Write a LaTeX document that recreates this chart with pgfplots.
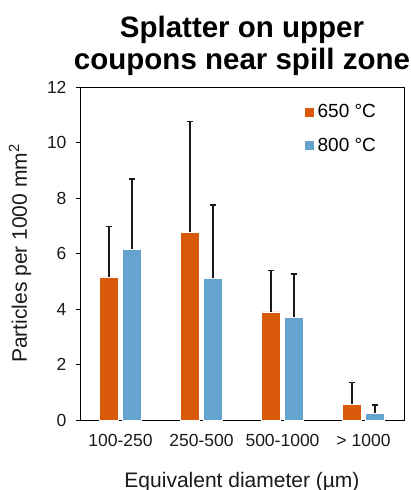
\documentclass[border=0pt]{standalone}
\usepackage{pgfplots}
\pgfplotsset{compat=1.18}
\usepackage{fontspec}
\setmainfont{Liberation Sans}
\definecolor{cOrange}{HTML}{DA5A0C}
\definecolor{cBlue}{HTML}{66A4D0}
\definecolor{cText}{HTML}{1A1A1A}
\begin{document}
\begin{tikzpicture}
\path[use as bounding box] (0pt,0pt) rectangle (410pt,490pt);
\begin{axis}[
  at={(80pt,70pt)}, anchor=south west,
  scale only axis, width=324pt, height=333pt,
  xmin=-0.5, xmax=3.5, ymin=0, ymax=12,
  ytick={0,2,4,6,8,10,12},
  xtick={0,1,2,3},
  xticklabels={100-250,250-500,500-1000,> 1000},
  /pgf/number format/assume math mode=true,
  ytick pos=left, xtick pos=bottom,
  tick align=outside,
  major tick length=4pt,
  x tick style={draw=none},
  tick style={black, line width=0.8pt},
  axis line style={black, line width=0.9pt},
  tick label style={font=\fontsize{17.5}{20}\selectfont, text=cText},
  yticklabel style={xshift=-6pt},
  xticklabel style={yshift=-7pt},
  xlabel={Equivalent diameter (µm)},
  ylabel={Particles per 1000 mm\textsuperscript{2}},
  label style={font=\fontsize{21}{24}\selectfont, text=cText},
  xlabel style={yshift=-18pt},
  ylabel style={yshift=9pt},
  title={Splatter on upper\\coupons near spill zone},
  title style={font=\bfseries\fontsize{29.5}{32}\selectfont, align=center, yshift=1.5pt},
  ybar=4.3pt, bar width=19pt,
  legend style={draw=none, fill=none, at={(0.69,0.96)}, anchor=north west,
    font=\fontsize{19}{22}\selectfont, row sep=15pt, inner xsep=0pt,
    nodes={inner xsep=3.5pt}},
  legend image code/.code={\fill[#1] (0pt,-5pt) rectangle (10pt,5pt);},
  legend cell align=left,
]
\addplot[fill=cOrange, draw=white, line width=0.4pt,
  error bars/.cd, y dir=plus, y explicit,
  error bar style={line width=1.4pt, draw=cText},
  error mark options={mark size=3pt, line width=1.4pt, draw=cText, rotate=90}]
  coordinates {(0,5.16) +- (0,1.81) (1,6.77) +- (0,3.98) (2,3.90) +- (0,1.48) (3,0.57) +- (0,0.78)};
\addplot[fill=cBlue, draw=white, line width=0.4pt,
  error bars/.cd, y dir=plus, y explicit,
  error bar style={line width=1.4pt, draw=cText},
  error mark options={mark size=3pt, line width=1.4pt, draw=cText, rotate=90}]
  coordinates {(0,6.16) +- (0,2.52) (1,5.10) +- (0,2.65) (2,3.70) +- (0,1.56) (3,0.24) +- (0,0.30)};
\legend{650 °C, 800 °C}
\end{axis}
\end{tikzpicture}
\end{document}
